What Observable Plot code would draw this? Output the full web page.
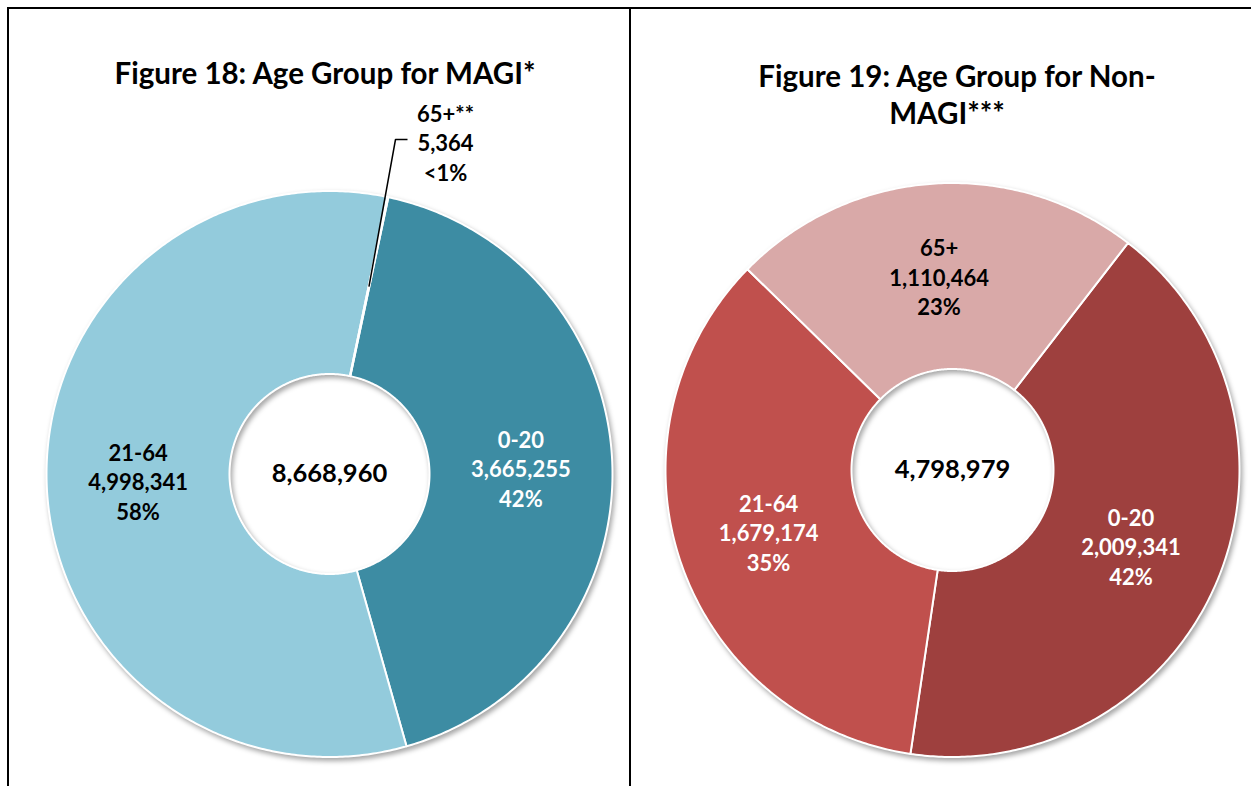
<!DOCTYPE html>
<html><head><meta charset="utf-8">
<script src="https://cdn.jsdelivr.net/npm/d3@7"></script>
<script src="https://cdn.jsdelivr.net/npm/@observablehq/plot@0.6"></script>
<style>
body{margin:0;background:#fff;font-family:Lato,"Open Sans",sans-serif;}
#page{position:relative;width:1251px;height:786px;overflow:hidden;background:#fff;}
.bline{position:absolute;background:#000;}
.title{position:absolute;font-weight:700;font-size:29.5px;color:#000;white-space:nowrap;transform:translate(-50%,-50%);line-height:37px;text-align:center;}
.panel{position:absolute;}
.panel svg{overflow:visible;}
</style>
</head><body>
<div id="page">
  <div class="bline" style="left:7px;top:7px;width:1244px;height:2px;"></div>
  <div class="bline" style="left:7px;top:7px;width:2px;height:779px;"></div>
  <div class="bline" style="left:629px;top:7px;width:2px;height:779px;"></div>
  <div class="title" id="t1" style="left:325px;top:72px;"></div>
  <div class="title" id="t2a" style="left:957px;top:75px;"></div>
  <div class="title" id="t2b" style="left:947px;top:112px;"></div>
  <div class="panel" id="p1" style="left:9px;top:90px;"></div>
  <div class="panel" id="p2" style="left:631px;top:90px;"></div>
</div>
<script>
// ---- data ----
const groups = ["0-20", "21-64", "65+"];
const magiLabels = ["0-20", "21-64", "65+**"];
const magiValues = [3665255, 4998341, 5364];
const magiPct = ["42%", "58%", "<1%"];
const nonMagiLabels = ["0-20", "21-64", "65+"];
const nonMagiValues = [2009341, 1679174, 1110464];
const nonMagiPct = ["42%", "35%", "23%"];
const titleMagi = "Figure 18: Age Group for MAGI*";
const titleNonMagiLine1 = "Figure 19: Age Group for Non-";
const titleNonMagiLine2 = "MAGI***";

// ---- styles ----
const magiColors = ["#3d8ca3", "#93cbdc", "#2b6878"];
const nonMagiColors = ["#9e403e", "#c0504d", "#d9a9a8"];
const fmt = d3.format(",");

document.getElementById("t1").textContent = titleMagi;
document.getElementById("t2a").textContent = titleNonMagiLine1;
document.getElementById("t2b").textContent = titleNonMagiLine2;

function donut(cfg) {
  const {labels, values, pcts, colors, whiteText, startDeg, R, r0, W, H, cx, cy, outside} = cfg;
  const a0 = startDeg * Math.PI / 180;
  const arcs = d3.pie().sort(null).startAngle(a0).endAngle(a0 + 2 * Math.PI)(values);
  const pts = [];
  const slices = arcs.map((a, i) => ({start: a.startAngle, end: a.endAngle, group: groups[i], label: labels[i], pct: pcts[i], value: values[i]}));
  for (const s of slices) {
    const n = Math.max(2, Math.ceil((s.end - s.start) / 0.01));
    for (let k = 0; k <= n; k++) {
      const t = s.start + (s.end - s.start) * k / n;
      pts.push({group: s.group, x: R * Math.sin(t), y: R * Math.cos(t)});
    }
    for (let k = n; k >= 0; k--) {
      const t = s.start + (s.end - s.start) * k / n;
      pts.push({group: s.group, x: r0 * Math.sin(t), y: r0 * Math.cos(t)});
    }
  }
  const rm = (R + r0) / 2;
  const lab = slices.map((s, i) => {
    const m = (s.start + s.end) / 2;
    return {lx: rm * Math.sin(m), ly: rm * Math.cos(m), text: `${s.label}\n${fmt(s.value)}\n${s.pct}`, white: whiteText[i], idx: i};
  });
  const inside = lab.filter(d => !outside || d.idx !== outside.index);
  const total = d3.sum(values);
  const textOpts = {fontSize: 22, fontWeight: 700, lineHeight: 1.34, fontFamily: "Lato"};
  const marks = [
    Plot.line(pts, {x: "x", y: "y", z: "group", fill: "group", stroke: "white", strokeWidth: 2, curve: "linear-closed"}),
    Plot.text(inside.filter(d => d.white), {x: "lx", y: "ly", text: "text", fill: "white", ...textOpts}),
    Plot.text(inside.filter(d => !d.white), {x: "lx", y: "ly", text: "text", fill: "black", ...textOpts}),
    Plot.text([{t: fmt(total)}], {x: () => 0, y: () => 0, text: "t", fill: "black", fontSize: 25.5, fontWeight: 700, fontFamily: "Lato"})
  ];
  if (outside) {
    const d = lab[outside.index];
    const leader = [
      {x: d.lx, y: d.ly},
      {x: outside.elbow[0], y: outside.elbow[1]},
      {x: outside.end[0], y: outside.end[1]}
    ];
    marks.push(Plot.line(leader, {x: "x", y: "y", stroke: "black", strokeWidth: 1.5, strokeLinecap: "butt", strokeLinejoin: "miter"}));
    marks.push(Plot.text([{...d, tx: outside.text[0], ty: outside.text[1]}], {x: "tx", y: "ty", text: "text", fill: "black", ...textOpts}));
  }
  const svg = Plot.plot({
    width: W, height: H, margin: 0,
    x: {domain: [-cx, W - cx], axis: null},
    y: {domain: [-(H - cy), cy], axis: null},
    color: {domain: groups, range: colors},
    style: {background: "transparent", overflow: "visible"},
    marks
  });
  const sliceG = svg.querySelector('g[aria-label="line"]');
  if (sliceG) sliceG.style.filter = "drop-shadow(2px 3px 2.5px rgba(0,0,0,0.35))";
  return svg;
}

document.getElementById("p1").append(donut({
  labels: magiLabels, values: magiValues, pcts: magiPct, colors: magiColors,
  whiteText: [true, false, false], startDeg: 12, R: 283, r0: 100,
  W: 620, H: 690, cx: 320, cy: 383.5,
  outside: {index: 2, elbow: [66, 334.5], end: [78, 334.5], text: [116, 332]}
}));
document.getElementById("p2").append(donut({
  labels: nonMagiLabels, values: nonMagiValues, pcts: nonMagiPct, colors: nonMagiColors,
  whiteText: [true, true, false], startDeg: 37.7, R: 287, r0: 101,
  W: 620, H: 690, cx: 321, cy: 379.5
}));
</script>
</body></html>
